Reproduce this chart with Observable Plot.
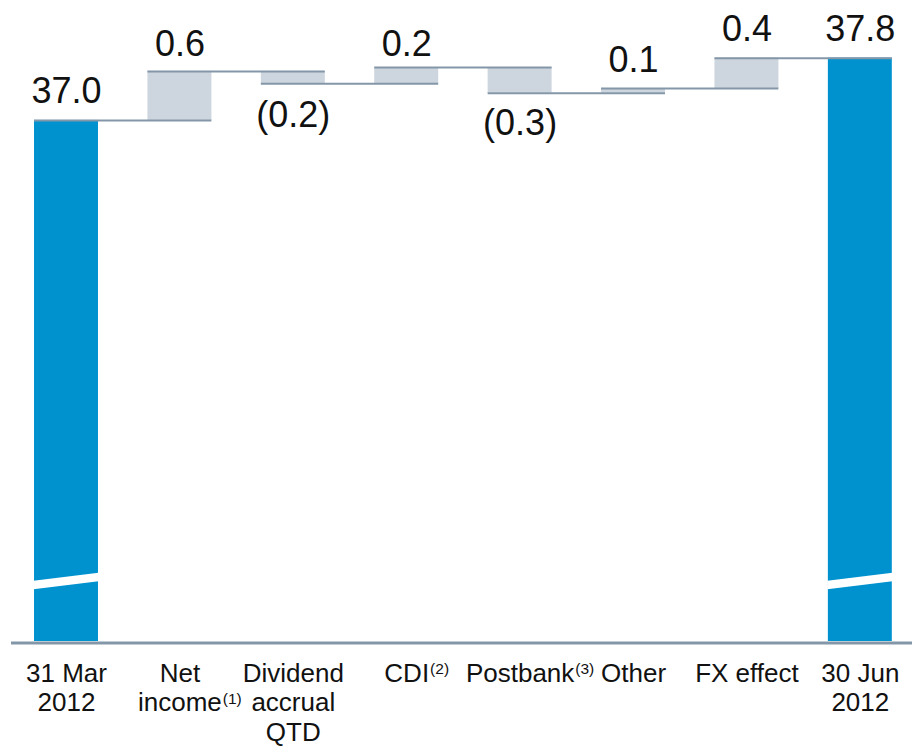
<!DOCTYPE html>
<html><head><meta charset="utf-8">
<script src="https://cdn.jsdelivr.net/npm/d3@7"></script>
<script src="https://cdn.jsdelivr.net/npm/@observablehq/plot@0.6"></script>
<style>html,body{margin:0;padding:0;background:#fff} svg{display:block}</style>
</head><body><div id="chart"></div>
<script>
// ---- data ----
const categories = ["31 Mar\n2012", "Net\nincome", "Dividend\naccrual\nQTD", "CDI", "Postbank", "Other", "FX effect", "30 Jun\n2012"];
const superscripts = ["", "(1)", "", "(2)", "(3)", "", "", ""];
const superscriptLine = [0, 1, 0, 0, 0, 0, 0, 0];
const startValue = 37.0;
const changes = [0.63, -0.16, 0.21, -0.33, 0.06, 0.39];
const endValue = 37.8;
const axisBase = 30.31;   // value at the (broken) axis baseline
const axisTop = 38.54;
const breakLevel = 31.08; // where the axis-break stripe crosses the total bars
const breakRise = 0.103;  // rise of the stripe across one bar
const breakGap = 0.11;    // thickness of the stripe

// ---- styles ----
const blue = "#0092cf", gray = "#cdd5de", lineColor = "#8497a9";
const hw = 0.282; // half bar width in category units

// ---- derived table ----
const round1 = v => Math.round(v * 10) / 10;
const rows = [];
let level = startValue, shown = startValue;
rows.push({i: 0, kind: "total", y1: axisBase, y2: startValue, value: startValue, end: startValue, shownEnd: startValue});
changes.forEach((c, k) => {
  const from = level;
  level += c; shown = round1(shown + round1(c));
  rows.push({i: k + 1, kind: "delta", y1: from, y2: level, value: c, end: level, shownEnd: shown});
});
rows.push({i: categories.length - 1, kind: "total", y1: axisBase, y2: endValue, value: endValue, end: endValue, shownEnd: endValue});

const connectors = rows.slice(0, -1).map(d => ({x1: d.i - hw, x2: d.i + 1 + hw, y: d.end}));
const fmt = d3.format(".1f");
const labelText = d => d.kind === "total" ? fmt(d.value) : d.value < 0 ? `(${fmt(-d.value)})` : fmt(d.value);
const upRows = rows.filter(d => d.kind === "total" || d.value >= 0);
const downRows = rows.filter(d => d.kind === "delta" && d.value < 0);

const stripes = [];
rows.filter(d => d.kind === "total").forEach(d => {
  for (const s of [-1, 1]) {
    const c = breakLevel + s * breakRise / 2;
    stripes.push({i: d.i, x: d.i + s * (hw + 0.005), lo: c - breakGap / 2, hi: c + breakGap / 2});
  }
});

const labelFont = 26, labelLH = 30 / 26;
const chart = Plot.plot({
  width: 912,
  height: 746,
  marginTop: 0,
  marginLeft: 11,
  marginRight: 0,
  marginBottom: 105,
  style: {fontFamily: "'Liberation Sans', Arial, sans-serif", background: "#fff"},
  x: {type: "linear", domain: [-0.485, 7.46], axis: null},
  y: {domain: [axisBase, axisTop], axis: null},
  marks: [
    Plot.rect(rows, {x1: d => d.i - hw, x2: d => d.i + hw, y1: "y1", y2: "y2",
      fill: d => d.kind === "total" ? blue : gray}),
    Plot.area(stripes, {x1: "x", y1: "lo", y2: "hi", z: "i", fill: "#fff"}),
    Plot.ruleY(connectors, {x1: "x1", x2: "x2", y: "y", stroke: lineColor, strokeWidth: 2}),
    Plot.ruleY([axisBase], {stroke: lineColor, strokeWidth: 3, dy: 1.5}),
    Plot.text(upRows, {x: "i", y: "shownEnd", text: labelText, lineAnchor: "bottom",
      dy: -17.5, fontSize: 36, fill: "#111"}),
    Plot.text(downRows, {x: "i", y: "shownEnd", text: labelText, lineAnchor: "top",
      lineHeight: 1, dy: 12.5, fontSize: 36, fill: "#111"}),
    Plot.text(rows, {x: "i", y: axisBase, text: d => categories[d.i], lineAnchor: "top",
      lineHeight: labelLH, dy: 18.7, fontSize: labelFont, fill: "#111", className: "xlab"})
  ]
});
document.getElementById("chart").appendChild(chart);

// superscript footnote markers after the x labels
const supFont = 15.5, supShift = -7.5, supGap = 1;
d3.select(chart).selectAll("g.xlab text").each(function (_, j) {
  const sup = superscripts[rows[j].i];
  if (!sup) return;
  const tsp = this.querySelectorAll("tspan");
  const k = superscriptLine[rows[j].i];
  const lineEl = tsp.length ? tsp[k] : this;
  const len = lineEl.getComputedTextLength();
  const y = (0.71 + k) * labelLH * labelFont + supShift;
  d3.select(this.parentNode).append("text")
    .attr("transform", this.getAttribute("transform"))
    .attr("x", len / 2 + supGap)
    .attr("y", y)
    .attr("font-size", supFont)
    .attr("fill", "#111")
    .attr("text-anchor", "start")
    .text(sup);
});
</script>
</body></html>
